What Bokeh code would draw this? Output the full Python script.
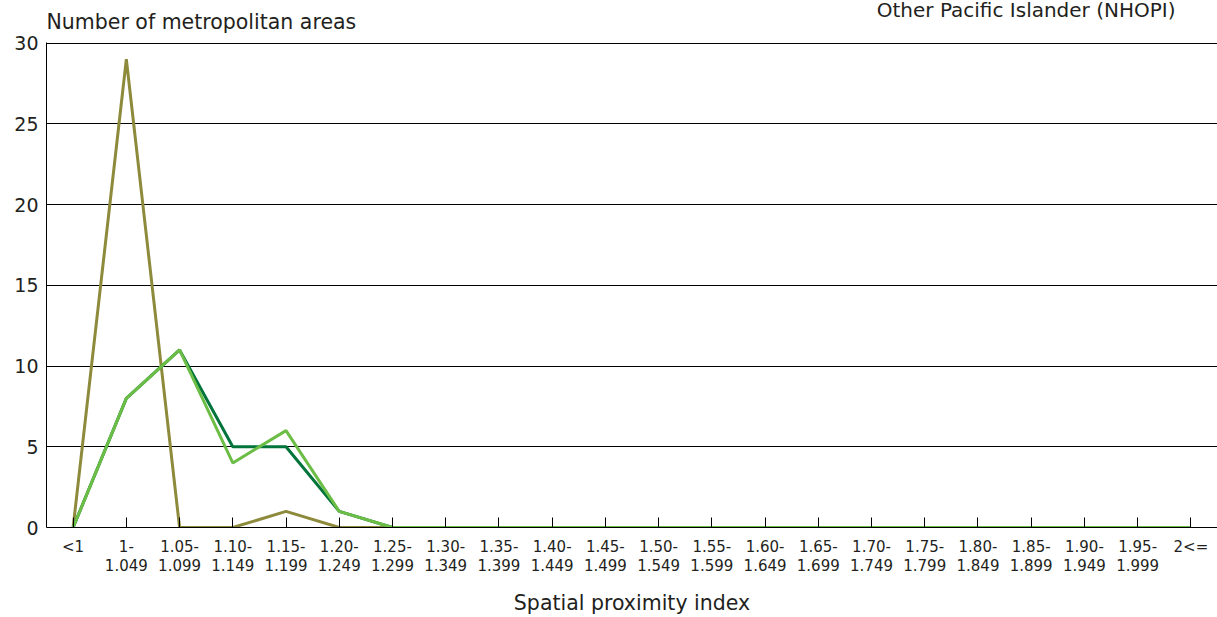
from bokeh.plotting import figure
from bokeh.models import FixedTicker, Range1d, LinearAxis, Title
from bokeh.embed import file_html
from bokeh.resources import INLINE

categories_top = ["<1", "1-", "1.05-", "1.10-", "1.15-", "1.20-", "1.25-", "1.30-", "1.35-", "1.40-",
                  "1.45-", "1.50-", "1.55-", "1.60-", "1.65-", "1.70-", "1.75-", "1.80-", "1.85-",
                  "1.90-", "1.95-", "2<="]
categories_bottom = ["", "1.049", "1.099", "1.149", "1.199", "1.249", "1.299", "1.349", "1.399",
                     "1.449", "1.499", "1.549", "1.599", "1.649", "1.699", "1.749", "1.799", "1.849",
                     "1.899", "1.949", "1.999", ""]
series_olive = [0, 29, 0, 0, 1, 0, 0, 0, 0, 0, 0, 0, 0, 0, 0, 0, 0, 0, 0, 0, 0, 0]
series_dark = [0, 8, 11, 5, 5, 1, 0, 0, 0, 0, 0, 0, 0, 0, 0, 0, 0, 0, 0, 0, 0, 0]
series_light = [0, 8, 11, 4, 6, 1, 0, 0, 0, 0, 0, 0, 0, 0, 0, 0, 0, 0, 0, 0, 0, 0]
y_ticks = [0, 5, 10, 15, 20, 25, 30]

FONT = "DejaVu Sans"
TXT = "#231f20"
xs = list(range(len(categories_top)))

p = figure(width=1217, height=617, output_backend="svg", toolbar_location=None,
           x_range=Range1d(-0.5, len(xs) - 0.5), y_range=Range1d(0, 30.04),
           min_border_left=46, min_border_right=0, min_border_top=42, min_border_bottom=90,
           title="Other Pacific Islander (NHOPI)")
p.outline_line_color = None
p.title.align = "right"
p.title.offset = 42
p.title.vertical_align = "bottom"
p.title.text_font = FONT
p.title.text_font_size = "20px"
p.title.text_font_style = "normal"
p.title.text_color = TXT
p.title.standoff = -38

t_left = Title(text="Number of metropolitan areas", align="left", standoff=14,
               vertical_align="top",
               text_font=FONT, text_font_size="20.5px", text_font_style="normal", text_color=TXT)
p.add_layout(t_left, "above")

p.line(xs, series_olive, line_color="#8d8a3c", line_width=3)
p.line(xs, series_dark, line_color="#00743a", line_width=3)
p.line(xs, series_light, line_color="#6cbd45", line_width=3)

p.xgrid.grid_line_color = None
p.ygrid.grid_line_color = "black"
p.ygrid.grid_line_width = 1
p.ygrid.ticker = FixedTicker(ticks=y_ticks)

xa = p.xaxis[0]
xa.ticker = FixedTicker(ticks=xs)
xa.major_label_overrides = {i: c for i, c in enumerate(categories_top)}
xa.major_tick_in = 10
xa.major_tick_out = 0
xa.minor_tick_line_color = None
xa.axis_line_color = "black"
xa.major_tick_line_color = "black"
xa.major_label_text_font = FONT
xa.major_label_text_font_size = "15px"
xa.major_label_text_color = TXT
xa.major_label_standoff = 10

xb = LinearAxis(ticker=FixedTicker(ticks=xs))
xb.major_label_overrides = {i: c for i, c in enumerate(categories_bottom)}
xb.axis_line_color = None
xb.major_tick_line_color = None
xb.minor_tick_line_color = None
xb.major_tick_in = 0
xb.major_tick_out = 0
xb.major_label_text_font = FONT
xb.major_label_text_font_size = "15px"
xb.major_label_text_color = TXT
xb.major_label_standoff = 0
xb.axis_label = "Spatial proximity index"
xb.axis_label_text_font = FONT
xb.axis_label_text_font_style = "normal"
xb.axis_label_text_font_size = "20.5px"
xb.axis_label_text_color = TXT
xb.axis_label_standoff = 17
p.add_layout(xb, "below")

ya = p.yaxis[0]
ya.ticker = FixedTicker(ticks=y_ticks)
ya.major_tick_in = 0
ya.major_tick_out = 0
ya.minor_tick_line_color = None
ya.axis_line_color = "black"
ya.major_label_text_font = FONT
ya.major_label_text_font_size = "19px"
ya.major_label_text_color = TXT
ya.major_label_standoff = 8

open("out.html", "w").write(file_html(p, INLINE))
